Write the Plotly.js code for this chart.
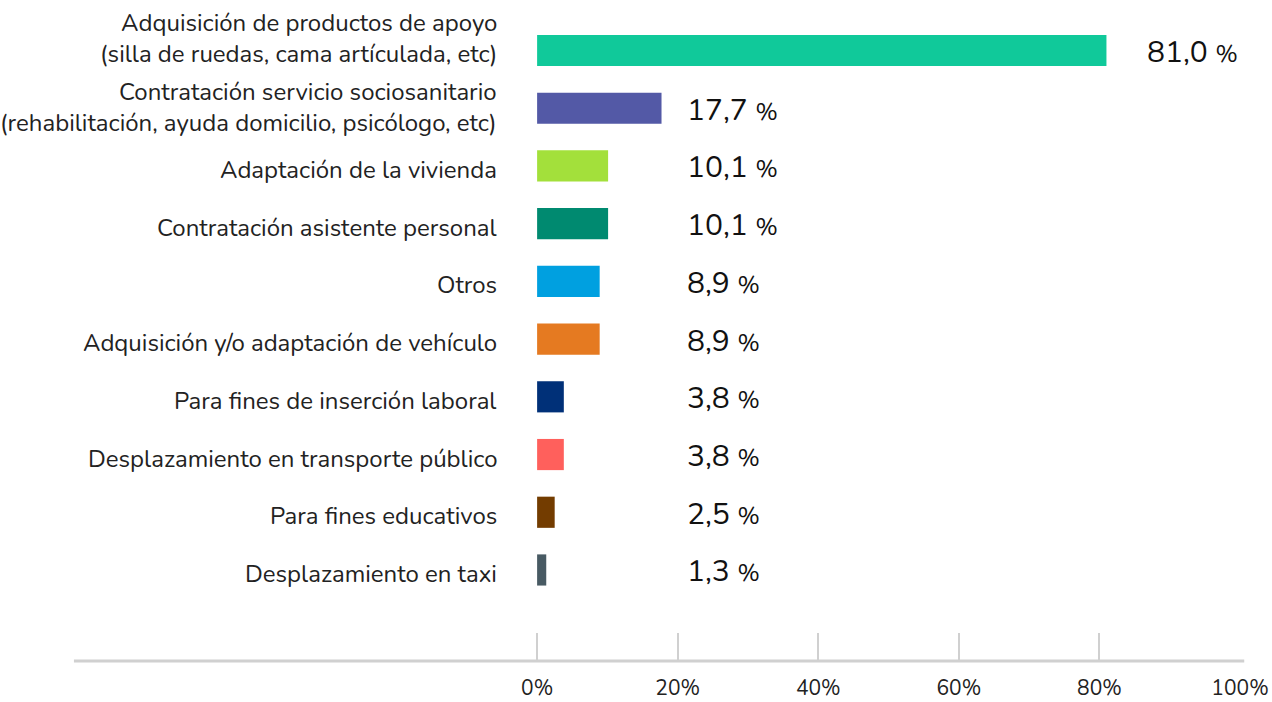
<!DOCTYPE html>
<html>
<head>
<meta charset="utf-8">
<script src="https://cdn.plot.ly/plotly-3.0.1.min.js"></script>
<style>html,body{margin:0;padding:0;background:#fff;}#chart{width:1272px;height:702px;}</style>
</head>
<body>
<div id="chart"></div>
<script>
const categories = [
  "Adquisición de productos de apoyo<br>(silla de ruedas, cama artículada, etc)",
  "Contratación servicio sociosanitario<br>(rehabilitación, ayuda domicilio, psicólogo, etc)",
  "Adaptación de la vivienda",
  "Contratación asistente personal",
  "Otros",
  "Adquisición y/o adaptación de vehículo",
  "Para fines de inserción laboral",
  "Desplazamiento en transporte público",
  "Para fines educativos",
  "Desplazamiento en taxi"
];
const values = [81.0, 17.7, 10.1, 10.1, 8.9, 8.9, 3.8, 3.8, 2.5, 1.3];
const colors = ["#10C99A", "#5359A6", "#A3E03B", "#008A70", "#00A0E0", "#E57A21", "#003078", "#FF605C", "#733C00", "#485A63"];
const xTickVals = [0, 20, 40, 60, 80, 100];
const xTickText = ["0%", "20%", "40%", "60%", "80%", "100%"];

// vertical nudges (px) of the category labels, as in the reference layout
const labelNudge = [12, 1, -4, -4, -4, -4, -4, -4, -4, -4];

const FONT = "Nunito, Lato, 'Open Sans', sans-serif";
const idx = categories.map((c, i) => i);

const trace = {
  type: "bar",
  orientation: "h",
  x: values,
  y: idx,
  width: 0.54,
  marker: { color: colors },
  hoverinfo: "x+text",
  text: categories,
  textposition: "none"
};

const valueAnnotations = values.map((v, i) => ({
  x: v < 20 ? 21 : v + 5.5,
  y: i,
  xref: "x",
  yref: "y",
  xanchor: "left",
  yanchor: "middle",
  showarrow: false,
  text: v.toFixed(1).replace(".", ",") + " <span style=\"font-size:24px\">%</span>",
  font: { family: FONT, size: 30, color: "#111" },
  yshift: -2
}));

const categoryAnnotations = categories.map((c, i) => ({
  x: 0,
  y: i,
  xref: "paper",
  yref: "y",
  xanchor: "right",
  yanchor: "middle",
  align: "right",
  xshift: -36,
  yshift: labelNudge[i],
  showarrow: false,
  text: c,
  font: { family: FONT, size: 24, color: "#222" }
}));

const layout = {
  width: 1272,
  height: 702,
  margin: { l: 535, r: 32, t: 0, b: 41 },
  paper_bgcolor: "#ffffff",
  plot_bgcolor: "#ffffff",
  showlegend: false,
  font: { family: FONT, size: 20, color: "#222" },
  xaxis: {
    range: [-0.3, 100],
    tickvals: xTickVals,
    ticktext: xTickText,
    ticks: "inside",
    ticklen: 28,
    tickwidth: 2,
    tickcolor: "#d0d0d0",
    showgrid: false,
    zeroline: false,
    showline: false,
    tickfont: { family: FONT, size: 21, color: "#222" },
    ticklabelstandoff: 12,
    fixedrange: true
  },
  yaxis: {
    range: [10.577, -0.875],
    tickvals: idx,
    showticklabels: false,
    ticks: "",
    showgrid: false,
    zeroline: false,
    showline: false,
    fixedrange: true
  },
  shapes: [{
    type: "line",
    xref: "paper",
    yref: "paper",
    x0: -0.654, x1: 1.006,
    y0: 0, y1: 0,
    line: { color: "#d0d0d0", width: 3 },
    layer: "below"
  }],
  annotations: categoryAnnotations.concat(valueAnnotations)
};

Plotly.newPlot("chart", [trace], layout, { displayModeBar: false, staticPlot: true });
</script>
</body>
</html>
